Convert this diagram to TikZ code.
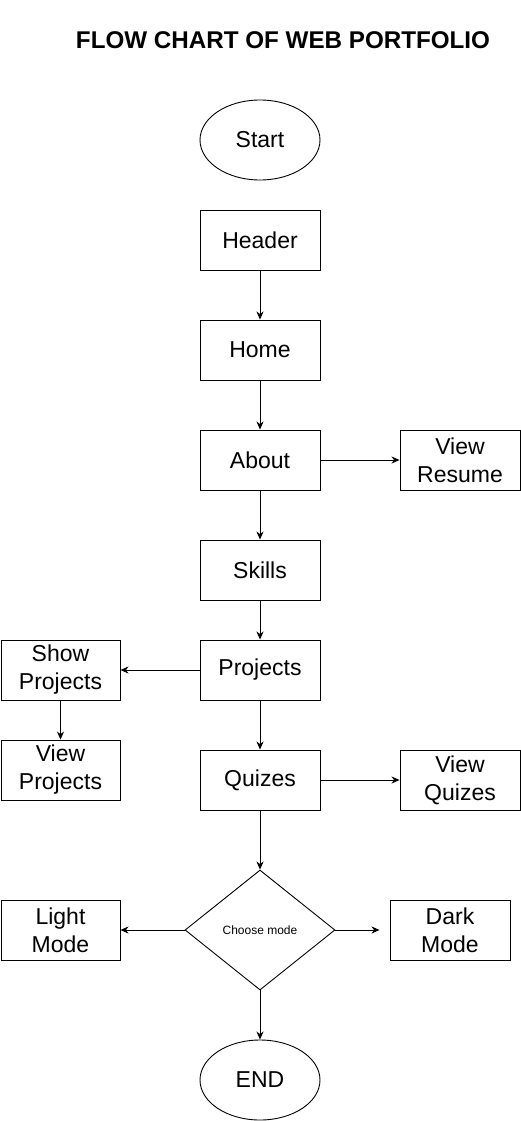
\documentclass[tikz,border=0pt]{standalone}
\usepackage{fontspec}
\setmainfont{Liberation Sans}
\usetikzlibrary{arrows.meta,shapes.geometric}
\tikzset{box/.style={draw,line width=0.9pt,align=center,minimum width=120pt,minimum height=60pt,inner sep=0pt,font=\fontsize{23}{28}\selectfont},
  term/.style={box,ellipse,minimum height=80pt},
  choice/.style={draw,line width=0.9pt,diamond,aspect=1.25,minimum width=150pt,minimum height=120pt,inner sep=0pt,font=\fontsize{12}{14}\selectfont},
  arr/.style={-{Stealth[length=8pt,width=7pt,inset=2.5pt]},line width=0.9pt}}
\begin{document}
\begin{tikzpicture}[x=1pt,y=-1pt]
\useasboundingbox[fill=white] (0,0) rectangle (521,1121);
\node[font=\bfseries\fontsize{24.2}{28}\selectfont] (title) at (283,40){FLOW CHART OF WEB PORTFOLIO};
\node[term] (start) at (260,140){Start};
\node[box] (header) at (260,240){Header};
\node[box] (home) at (260,350){Home};
\node[box] (about) at (260,460){About};
\node[box] (resume) at (460,460){View\\Resume};
\node[box] (skills) at (260,570){Skills};
\node[box] (proj) at (260,670){Projects};
\node[box,minimum width=119pt] (showp) at (60.5,670){Show\\Projects};
\node[box,minimum width=119pt] (viewp) at (60.5,770){View\\Projects};
\node[box] (quiz) at (260,780){Quizes};
\node[box] (viewq) at (460,780){View\\Quizes};
\node[choice] (mode) at (260,930){Choose mode};
\node[box,minimum width=119pt] (light) at (60.5,930){Light\\Mode};
\node[box] (dark) at (450,930){Dark\\Mode};
\node[term] (end) at (260,1080){END};
\draw[arr] (header)--(home); \draw[arr] (home)--(about); \draw[arr] (about)--(resume);
\draw[arr] (about)--(skills); \draw[arr] (skills)--(proj); \draw[arr] (proj)--(showp);
\draw[arr] (showp)--(viewp); \draw[arr] (proj)--(quiz); \draw[arr] (quiz)--(viewq);
\draw[arr] (quiz)--(mode); \draw[arr] (mode)--(light); \draw[arr,shorten >=10pt] (mode)--(dark);
\draw[arr] (mode)--(end);
\end{tikzpicture}
\end{document}
